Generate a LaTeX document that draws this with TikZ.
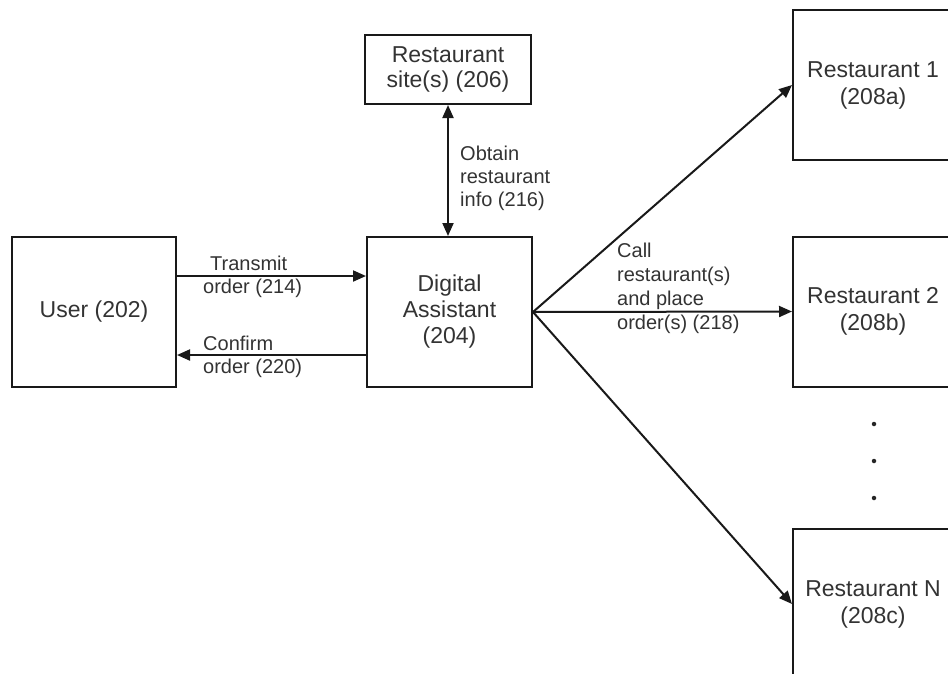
\documentclass[tikz,border=0pt]{standalone}
\usepackage{fontspec}
\setmainfont{Liberation Sans}
\usetikzlibrary{arrows.meta}
\definecolor{txt}{HTML}{333333}
\begin{document}
\begin{tikzpicture}[x=1pt,y=-1pt,
  box/.style={draw=black!90, line width=2pt, text=txt, align=center, inner sep=0pt,
    font=\fontsize{23}{26}\selectfont},
  lbl/.style={text=txt, align=left, inner sep=0pt, anchor=north west,
    font=\fontsize{20}{23.5}\selectfont},
  arr/.style={draw=black!90, line width=2pt, -{Triangle[length=13pt,width=11pt]}},
  dbl/.style={draw=black!90, line width=2pt, {Triangle[length=13pt,width=11pt]}-{Triangle[length=13pt,width=11pt]}},
  dotmark/.style={circle, fill=black!85, inner sep=0pt, minimum size=4.5pt}
]
\useasboundingbox (0,0) rectangle (948,673);

\node[box, minimum width=164pt, minimum height=150pt] (user) at (94,312) {User (202)};
\node[box, minimum width=165pt, minimum height=150pt] (da) at (449.5,312) {Digital\\Assistant\\(204)};
\node[box, minimum width=166pt, minimum height=69pt, font=\fontsize{23}{25}\selectfont] (site) at (448,69.5) {Restaurant\\site(s) (206)};
\node[box, minimum width=160pt, minimum height=150pt, font=\fontsize{23}{27}\selectfont] (r1) at (873,85) {Restaurant 1\\(208a)};
\node[box, minimum width=160pt, minimum height=150pt, font=\fontsize{23}{27}\selectfont] (r2) at (873,311.5) {Restaurant 2\\(208b)};
\node[box, minimum width=160pt, minimum height=150pt, font=\fontsize{23}{27}\selectfont] (rn) at (873,604) {Restaurant N\\(208c)};

\draw[arr] ([yshift=36pt]user.east) -- ([yshift=36pt]da.west);
\draw[arr] ([yshift=-43pt]da.west) -- ([yshift=-43pt]user.east);
\draw[dbl] (site.south) -- (site.south |- da.north);
\draw[arr] (da.east) -- (r1.west);
\draw[arr] (da.east) -- (r2.west);
\draw[arr] (da.east) -- (rn.west);

\node[lbl] (l214) at (203,255.5) {\hspace*{7pt}Transmit\\order (214)};
\node[lbl, font=\fontsize{20}{23}\selectfont] (l220) at (203,335.5) {Confirm\\order (220)};
\node[lbl, font=\fontsize{20}{23}\selectfont] (l216) at (460,145.5) {Obtain\\restaurant\\info (216)};
\node[lbl, font=\fontsize{20}{24}\selectfont] (l218) at (617,242.5) {Call\\restaurant(s)\\and place\\order(s) (218)};

\node[dotmark] (d1) at (874,424) {};
\node[dotmark] (d2) at (874,461) {};
\node[dotmark] (d3) at (874,498) {};
\end{tikzpicture}
\end{document}
